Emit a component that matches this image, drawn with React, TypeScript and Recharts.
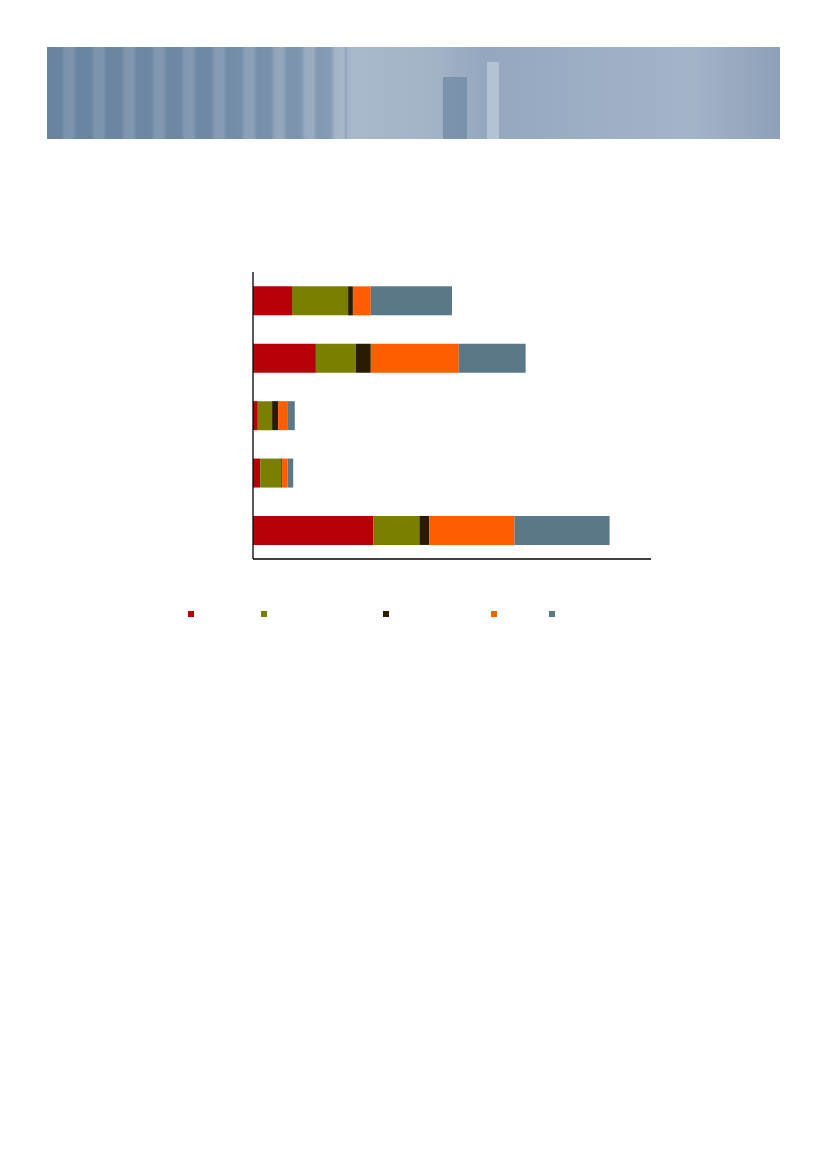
import React from "react";
import { BarChart, Bar, XAxis, YAxis } from "recharts";

const categories = ["A", "B", "C", "D", "E"];
const seriesKeys = ["s1", "s2", "s3", "s4", "s5"];
const seriesColors = ["#B70006", "#7A7F00", "#291C00", "#FF5E00", "#5B7889"];
const s1 = [9.8, 15.8, 1.2, 1.8, 30.2];
const s2 = [14.1, 10.0, 3.6, 5.3, 11.6];
const s3 = [1.2, 3.8, 1.5, 0.2, 2.5];
const s4 = [4.5, 22.1, 2.3, 1.4, 21.4];
const s5 = [20.4, 16.8, 1.9, 1.4, 23.9];
const legendSpacing = [73, 122, 108, 58, 20];

const seriesValues = [s1, s2, s3, s4, s5];
const data = categories.map((c, i) => {
  const row: Record<string, any> = { name: c };
  seriesKeys.forEach((k, j) => {
    row[k] = seriesValues[j][i];
  });
  return row;
});

export default function App() {
  return (
    <div style={{ position: "absolute", left: 0, top: 0, width: 827, height: 1169, background: "#fff" }}>
      <div
        style={{
          position: "absolute",
          left: 47,
          top: 47,
          width: 733,
          height: 92,
          background:
            "linear-gradient(90deg, #6d87a2 0%, #7890aa 22%, #8ea2ba 35%, #a9b8cb 42%, #a4b3c7 52%, #94a7bf 60%, #9fb0c6 78%, #a3b3c8 88%, #8ea0b8 100%)",
          overflow: "hidden",
        }}
      >
        <div
          style={{
            position: "absolute",
            left: 0,
            top: 0,
            width: 300,
            height: 92,
            background:
              "repeating-linear-gradient(90deg, rgba(95,125,155,0.35) 0px, rgba(95,125,155,0.35) 14px, rgba(200,210,225,0.15) 18px, rgba(200,210,225,0.15) 26px, rgba(95,125,155,0.35) 30px)",
          }}
        />
        <div style={{ position: "absolute", left: 396, top: 30, width: 24, height: 62, background: "rgba(100,128,156,0.6)" }} />
        <div style={{ position: "absolute", left: 440, top: 15, width: 12, height: 77, background: "rgba(200,212,225,0.6)" }} />
      </div>

      <div style={{ position: "absolute", left: 200, top: 260 }}>
        <BarChart
          width={470}
          height={310}
          data={data}
          layout="vertical"
          margin={{ top: 12, right: 19, bottom: 10, left: 52 }}
          barCategoryGap="25%"
        >
          <XAxis
            type="number"
            domain={[0, 100]}
            tick={false}
            tickLine={false}
            height={1}
            axisLine={{ stroke: "#000", strokeWidth: 1.3 }}
          />
          <YAxis
            type="category"
            dataKey="name"
            tick={false}
            tickLine={false}
            width={1}
            axisLine={{ stroke: "#000", strokeWidth: 1.3 }}
          />
          {seriesKeys.map((k, j) => (
            <Bar key={k} dataKey={k} stackId="a" fill={seriesColors[j]} isAnimationActive={false} />
          ))}
        </BarChart>
      </div>

      <div style={{ position: "absolute", left: 188, top: 611, display: "flex" }}>
        {seriesKeys.map((k, j) => (
          <div key={k} style={{ width: legendSpacing[j], height: 6 }}>
            <div style={{ width: 6, height: 6, background: seriesColors[j] }} />
          </div>
        ))}
      </div>
    </div>
  );
}
